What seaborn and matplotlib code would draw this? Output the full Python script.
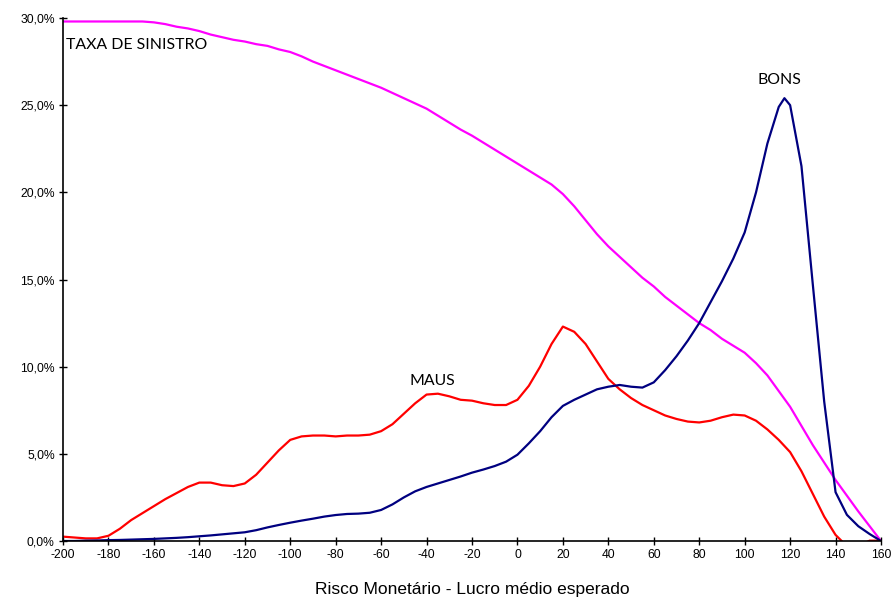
import numpy as np
import pandas as pd
import matplotlib
matplotlib.use("Agg")
import matplotlib.pyplot as plt
from matplotlib.ticker import FuncFormatter
import seaborn as sns

# ---- data ----
risco = [-200, -195, -190, -185, -180, -175, -170, -165, -160, -155,
         -150, -145, -140, -135, -130, -125, -120, -115, -110, -105,
         -100, -95, -90, -85, -80, -75, -70, -65, -60, -55,
         -50, -45, -40, -35, -30, -25, -20, -15, -10, -5,
         0, 5, 10, 15, 20, 25, 30, 35, 40, 45,
         50, 55, 60, 65, 70, 75, 80, 85, 90, 95,
         100, 105, 110, 115, 117.5, 120, 125, 130, 135, 140,
         145, 150, 155, 160]

taxa = [29.8, 29.8, 29.8, 29.8, 29.8, 29.8, 29.8, 29.8, 29.75, 29.65,
        29.5, 29.4, 29.25, 29.05, 28.9, 28.75, 28.65, 28.5, 28.4, 28.2,
        28.05, 27.8, 27.5, 27.25, 27.0, 26.75, 26.5, 26.25, 26.0, 25.7,
        25.4, 25.1, 24.8, 24.4, 24.0, 23.6, 23.25, 22.85, 22.45, 22.05,
        21.65, 21.25, 20.85, 20.45, 19.9, 19.2, 18.4, 17.6, 16.9, 16.3,
        15.7, 15.1, 14.6, 14.0, 13.5, 13.0, 12.5, 12.1, 11.6, 11.2,
        10.8, 10.2, 9.5, 8.6, 8.15, 7.7, 6.6, 5.5, 4.5, 3.5,
        2.6, 1.7, 0.85, 0.0]

maus = [0.25, 0.2, 0.15, 0.15, 0.3, 0.7, 1.2, 1.6, 2.0, 2.4,
        2.75, 3.1, 3.35, 3.35, 3.2, 3.15, 3.3, 3.8, 4.5, 5.2,
        5.8, 6.0, 6.05, 6.05, 6.0, 6.05, 6.05, 6.1, 6.3, 6.7,
        7.3, 7.9, 8.4, 8.45, 8.3, 8.1, 8.05, 7.9, 7.8, 7.8,
        8.1, 8.9, 10.0, 11.3, 12.3, 12.0, 11.3, 10.3, 9.3, 8.7,
        8.2, 7.8, 7.5, 7.2, 7.0, 6.85, 6.8, 6.9, 7.1, 7.25,
        7.2, 6.9, 6.4, 5.8, 5.45, 5.1, 4.0, 2.7, 1.4, 0.35,
        -0.3, -0.3, 0.02, 0.02]

bons = [0.0, 0.0, 0.02, 0.03, 0.05, 0.06, 0.08, 0.1, 0.12, 0.15,
        0.18, 0.22, 0.27, 0.32, 0.38, 0.44, 0.5, 0.62, 0.78, 0.92,
        1.05, 1.17, 1.28, 1.4, 1.49, 1.55, 1.57, 1.62, 1.78, 2.1,
        2.5, 2.85, 3.1, 3.3, 3.5, 3.7, 3.92, 4.1, 4.3, 4.55,
        4.95, 5.6, 6.3, 7.1, 7.75, 8.1, 8.4, 8.7, 8.85, 8.95,
        8.85, 8.8, 9.1, 9.8, 10.6, 11.5, 12.5, 13.7, 14.9, 16.2,
        17.7, 20.0, 22.8, 24.9, 25.4, 25.0, 21.5, 14.7, 8.0, 2.8,
        1.5, 0.85, 0.4, 0.0]

series_names = ["TAXA DE SINISTRO", "MAUS", "BONS"]
series_colors = ["#FF00FF", "#FF0000", "#000080"]
x_ticks = [-200, -180, -160, -140, -120, -100, -80, -60, -40, -20,
           0, 20, 40, 60, 80, 100, 120, 140, 160]
y_ticks = [0, 5, 10, 15, 20, 25, 30]
x_label = "Risco Monetário - Lucro médio esperado"

# ---- build long table ----
df = pd.concat([
    pd.DataFrame({"risco": risco, "valor": vals, "serie": name})
    for name, vals in zip(series_names, [taxa, maus, bons])
], ignore_index=True)

sns.set_style("white")
plt.rcParams["font.family"] = ["Liberation Sans", "DejaVu Sans"]
plt.rcParams["axes.unicode_minus"] = False

fig = plt.figure(figsize=(8.91, 6.02), dpi=100)
ax = fig.add_axes([63 / 891, 1 - 541 / 602, (881 - 63) / 891, (541 - 18) / 602])

sns.lineplot(data=df, x="risco", y="valor", hue="serie",
             palette=dict(zip(series_names, series_colors)),
             linewidth=1.6, legend=False, ax=ax, sort=False,
             estimator=None)

ax.set_xlim(-200, 160)
ax.set_ylim(0, 30)
ax.set_xticks(x_ticks)
ax.set_yticks(y_ticks)
ax.xaxis.set_major_formatter(FuncFormatter(lambda v, p: f"{int(round(v))}"))
ax.yaxis.set_major_formatter(FuncFormatter(lambda v, p: f"{v:.1f}%".replace(".", ",")))
ax.tick_params(axis="both", which="major", direction="inout", length=6,
               width=1, color="black", labelsize=8.7, labelcolor="black",
               pad=3, left=True, bottom=True)

for s in ["top", "right"]:
    ax.spines[s].set_visible(False)
for s in ["left", "bottom"]:
    ax.spines[s].set_color("black")
    ax.spines[s].set_linewidth(1.2)

ax.set_xlabel(x_label, fontsize=12.5, labelpad=15, color="black")
ax.set_ylabel("")
ax.grid(False)

ann_font = ["Lato", "DejaVu Sans"]
ax.text(-198.5, 28.45, "TAXA DE SINISTRO", fontsize=11.4, family=ann_font,
        ha="left", va="center", color="black")
ax.text(-37.6, 9.2, "MAUS", fontsize=11.4, family=ann_font,
        ha="center", va="center", color="black")
ax.text(115.2, 26.45, "BONS", fontsize=11.4, family=ann_font,
        ha="center", va="center", color="black")

fig.savefig("out.png", dpi=100)
